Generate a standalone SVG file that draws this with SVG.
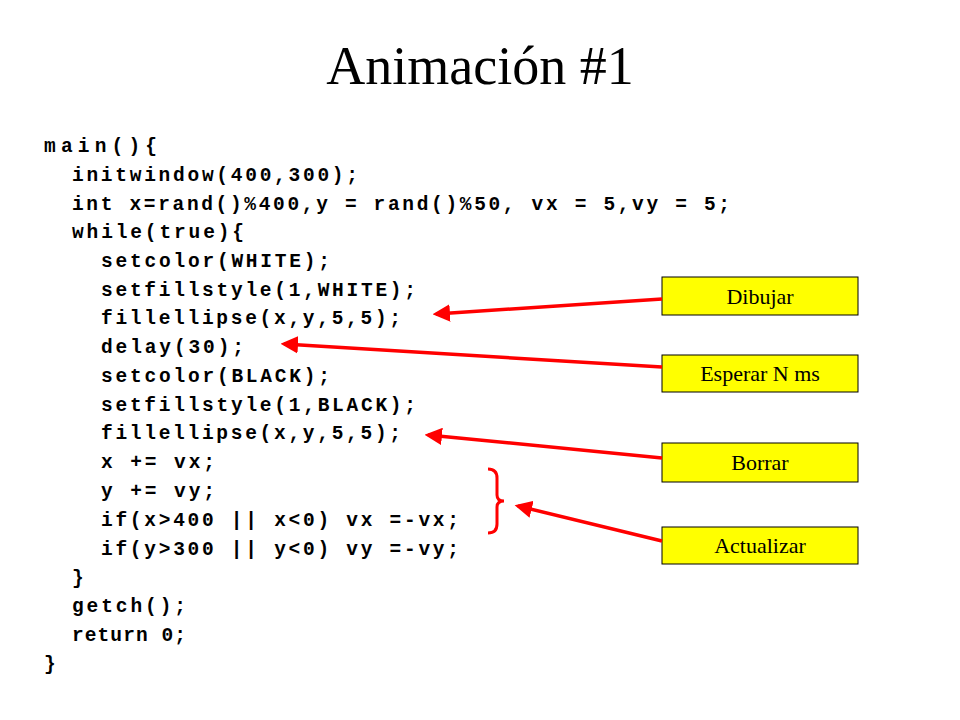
<svg xmlns="http://www.w3.org/2000/svg" width="960" height="720" viewBox="0 0 960 720">
<style>
.code{font-family:"Liberation Mono",monospace;font-weight:bold;font-size:19.5px;fill:#000;white-space:pre}
.lbl{font-family:"Liberation Serif",serif;font-size:22px;fill:#000;text-anchor:middle}
.box{fill:#FFFF00;stroke:#000;stroke-width:1}
.arr{stroke:#FF0000;stroke-width:3.5;fill:none;marker-end:url(#ah)}
</style>
<defs><marker id="ah" markerWidth="5" markerHeight="5" refX="4" refY="2.5" orient="auto"><path d="M0,0 L5,2.5 L0,5 Z" fill="#FF0000"/></marker></defs>
<rect width="960" height="720" fill="#fff"/>
<text x="480" y="84" font-family="Liberation Serif,serif" font-size="54" text-anchor="middle">Animación #1</text>
<g id="code">
<text class="code" x="44" y="152" textLength="113">main(){</text>
<text class="code" x="72" y="181" textLength="286">initwindow(400,300);</text>
<text class="code" x="72" y="210" textLength="658">int x=rand()%400,y = rand()%50, vx = 5,vy = 5;</text>
<text class="code" x="72" y="238" textLength="172">while(true){</text>
<text class="code" x="101" y="267" textLength="229">setcolor(WHITE);</text>
<text class="code" x="101" y="296" textLength="315">setfillstyle(1,WHITE);</text>
<text class="code" x="101" y="324" textLength="300">fillellipse(x,y,5,5);</text>
<text class="code" x="101" y="353" textLength="143">delay(30);</text>
<text class="code" x="101" y="382" textLength="229">setcolor(BLACK);</text>
<text class="code" x="101" y="411" textLength="315">setfillstyle(1,BLACK);</text>
<text class="code" x="101" y="439" textLength="300">fillellipse(x,y,5,5);</text>
<text class="code" x="101" y="468" textLength="114">x += vx;</text>
<text class="code" x="101" y="497" textLength="114">y += vy;</text>
<text class="code" x="101" y="526" textLength="358">if(x&gt;400 || x&lt;0) vx =-vx;</text>
<text class="code" x="101" y="555" textLength="358">if(y&gt;300 || y&lt;0) vy =-vy;</text>
<text class="code" x="72" y="584">}</text>
<text class="code" x="72" y="612" textLength="114">getch();</text>
<text class="code" x="72" y="641" textLength="114">return 0;</text>
<text class="code" x="44" y="670">}</text>
</g>
<g id="dibujar"><rect class="box" x="662" y="277" width="196" height="38"/><text class="lbl" x="760" y="304">Dibujar</text></g>
<g id="esperar"><rect class="box" x="662" y="355" width="196" height="37"/><text class="lbl" x="760" y="381">Esperar N ms</text></g>
<g id="borrar"><rect class="box" x="662" y="443" width="196" height="39"/><text class="lbl" x="760" y="470">Borrar</text></g>
<g id="actualizar"><rect class="box" x="662" y="527" width="196" height="37"/><text class="lbl" x="760" y="553">Actualizar</text></g>
<g id="connectors">
<line class="arr" x1="662" y1="299" x2="436" y2="314"/>
<line class="arr" x1="662" y1="367" x2="284" y2="344"/>
<line class="arr" x1="662" y1="458" x2="428" y2="435"/>
<line class="arr" x1="662" y1="541" x2="518" y2="506"/>
<path d="M488,469 Q497,469 497,478 L497,495 Q497,501 504,501 Q497,501 497,507 L497,524 Q497,533 488,533" stroke="#FF0000" stroke-width="3" fill="none"/>
</g>
</svg>
